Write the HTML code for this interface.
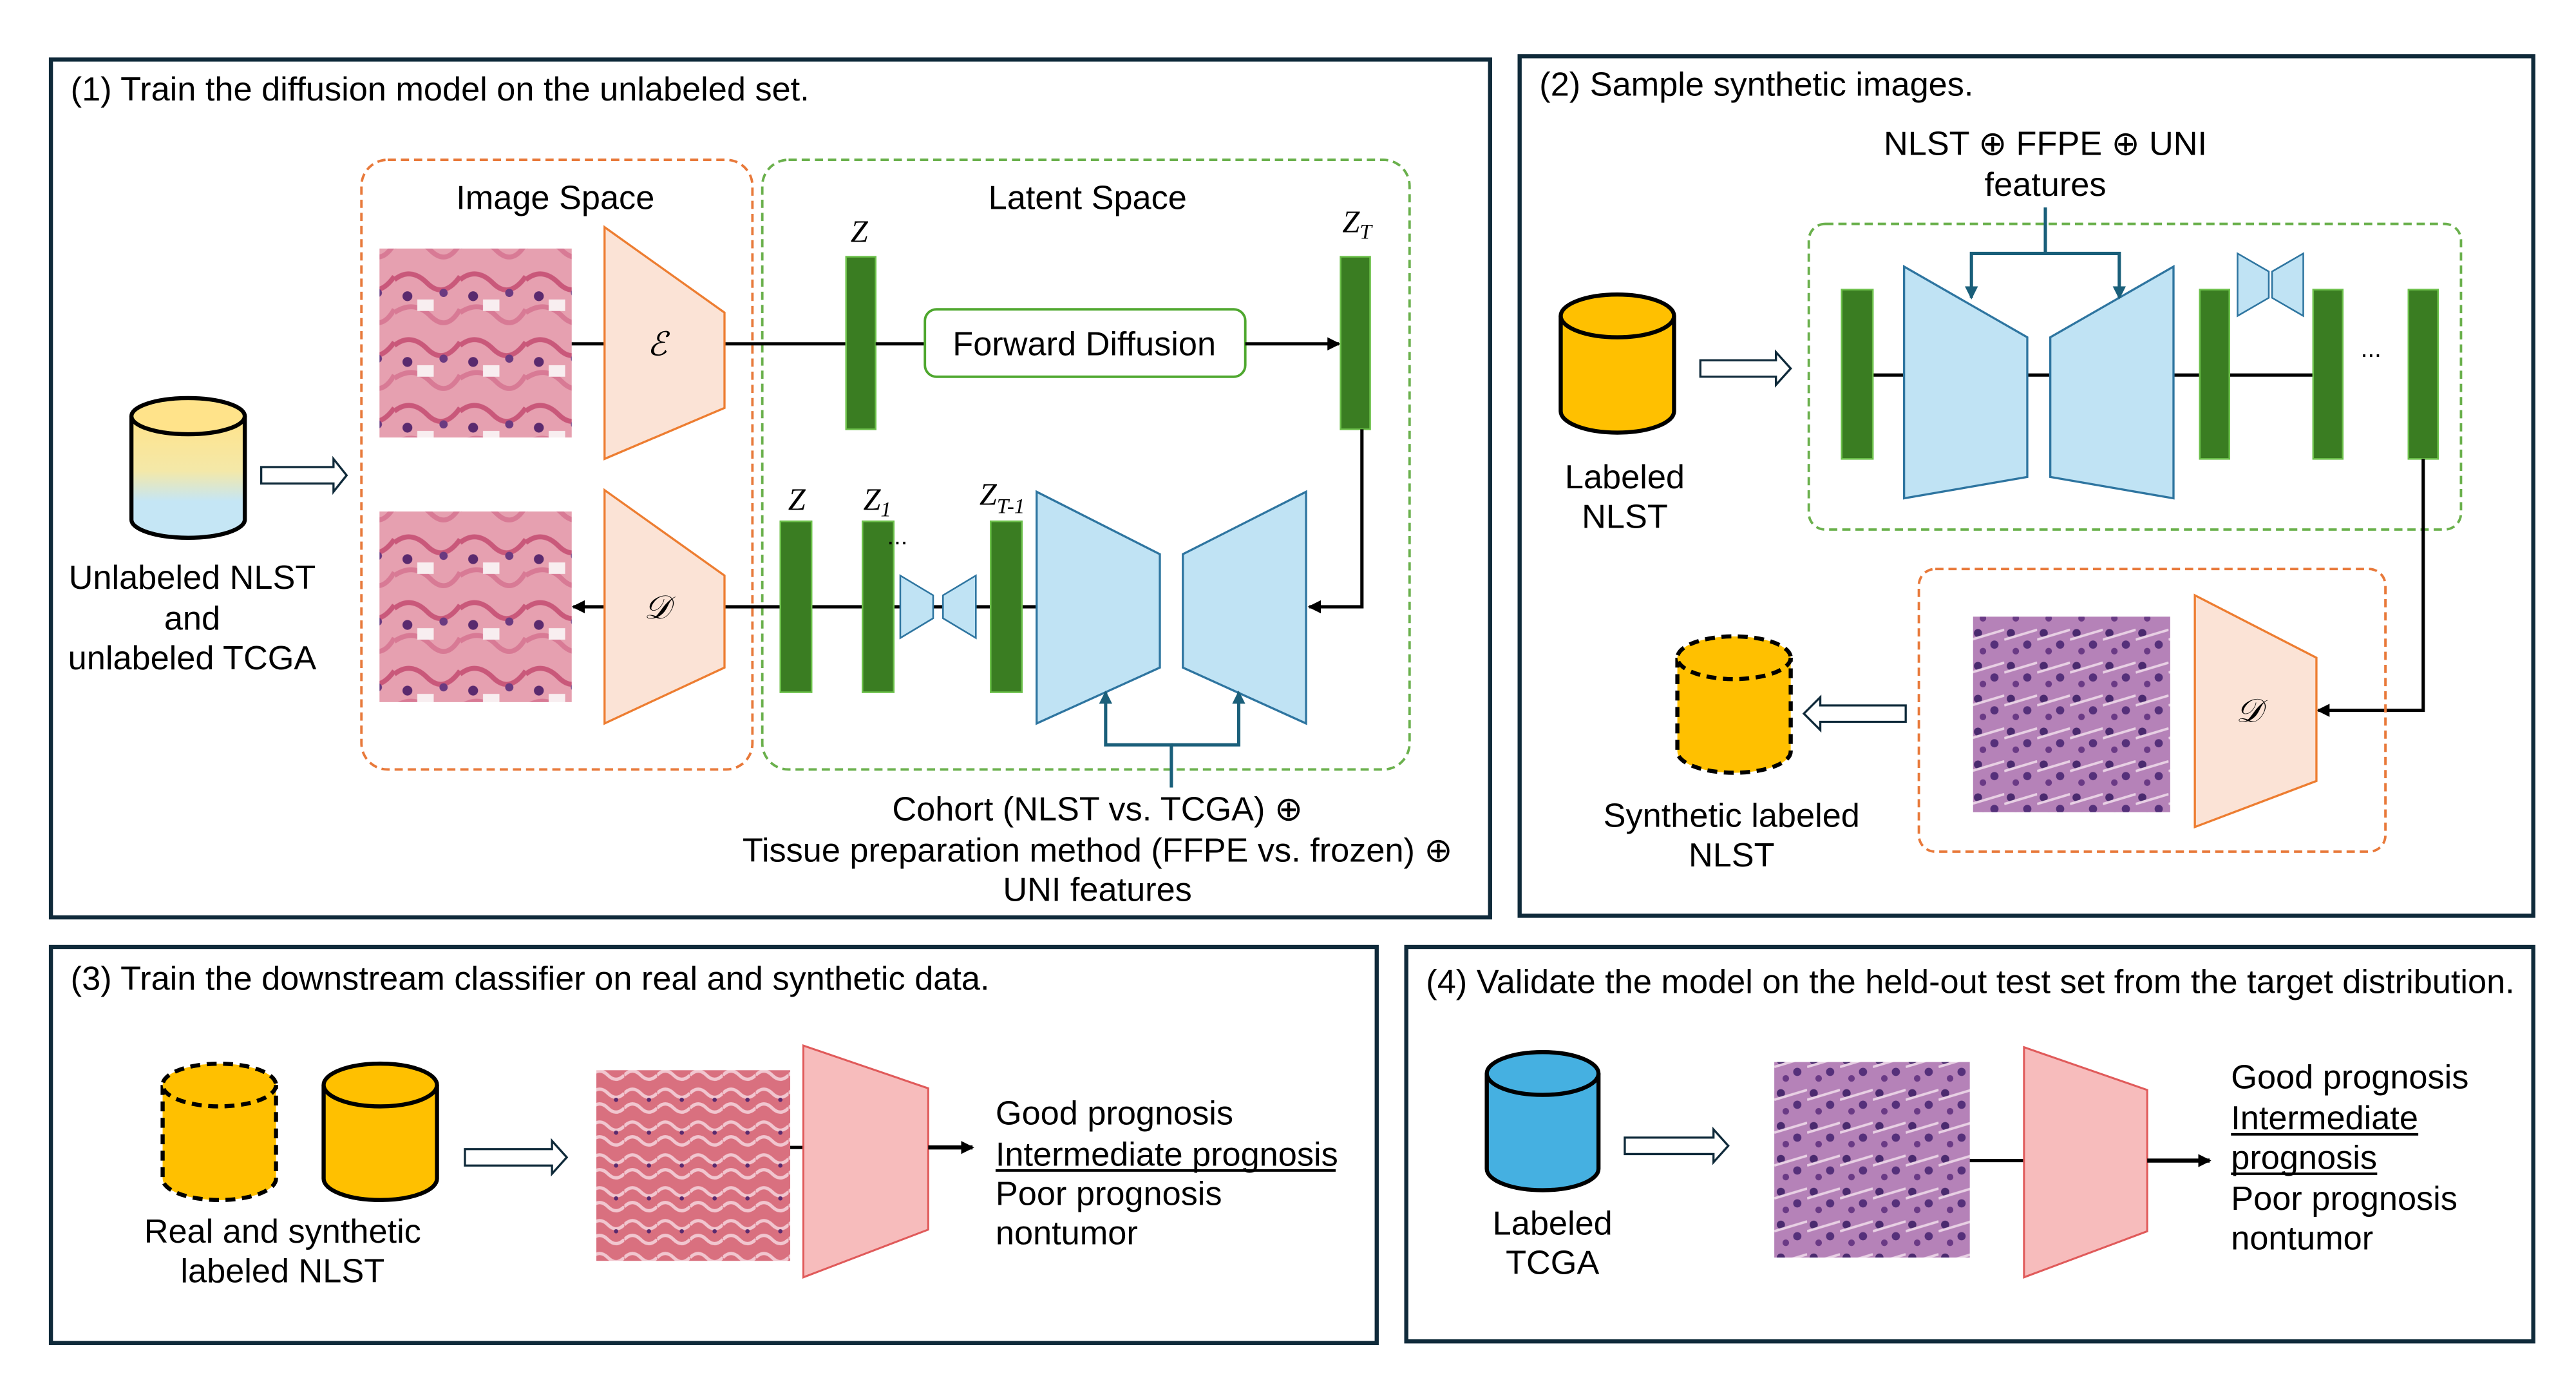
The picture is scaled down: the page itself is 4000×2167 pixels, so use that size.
<!DOCTYPE html>
<html><head><meta charset="utf-8"><style>html,body{margin:0;padding:0;background:#fff}svg{display:block}text{font-family:"Liberation Sans",sans-serif;fill:#000}</style></head>
<body>
<svg width="4000" height="2167" viewBox="0 0 1568 849" xmlns="http://www.w3.org/2000/svg">
<defs>
<marker id="ab" markerWidth="8" markerHeight="8" refX="7" refY="4" orient="auto" markerUnits="userSpaceOnUse"><path d="M0,0 L8,4 L0,8 z" fill="#000"/></marker>
<marker id="abl" markerWidth="8" markerHeight="8" refX="7" refY="4" orient="auto" markerUnits="userSpaceOnUse"><path d="M0,0 L8,4 L0,8 z" fill="#1a5f7a"/></marker>
<linearGradient id="cyl" x1="0" y1="0" x2="0" y2="1"><stop offset="0" stop-color="#ffe38a"/><stop offset="0.45" stop-color="#f4e8a8"/><stop offset="0.7" stop-color="#c5e6f5"/><stop offset="1" stop-color="#c5e6f5"/></linearGradient>
<pattern id="hp" width="40" height="40" patternUnits="userSpaceOnUse"><rect width="40" height="40" fill="#e6a0b0"/><path d="M0,10 Q10,2 20,12 T40,8" stroke="#c9587a" stroke-width="3" fill="none"/><path d="M0,30 Q12,22 22,32 T40,28" stroke="#d87a95" stroke-width="3" fill="none"/><circle cx="8" cy="20" r="3" fill="#5a2a6e"/><circle cx="30" cy="18" r="2.5" fill="#6a3a80"/><rect x="14" y="22" width="10" height="7" fill="#f8eef0"/></pattern>
<pattern id="pp" width="20" height="20" patternUnits="userSpaceOnUse"><rect width="20" height="20" fill="#b582b8"/><circle cx="4" cy="5" r="2.5" fill="#4a2a6e"/><circle cx="14" cy="12" r="2.5" fill="#55307a"/><circle cx="7" cy="16" r="2" fill="#6a3a85"/><path d="M0,9 L20,3" stroke="#e8d0e4" stroke-width="1.5"/></pattern>
<pattern id="rp" width="20" height="20" patternUnits="userSpaceOnUse"><rect width="20" height="20" fill="#d9707f"/><path d="M0,5 Q5,0 10,5 T20,5 M0,14 Q5,9 10,14 T20,14" stroke="#f1c6cf" stroke-width="2" fill="none"/><circle cx="15" cy="9" r="1.3" fill="#5a2a6e"/></pattern>
</defs>
<g fill="none" stroke="#0f2a3a" stroke-width="2.5">
<rect x="31" y="36" width="876" height="522"/>
<rect x="925" y="34" width="617" height="523"/>
<rect x="31" y="576" width="807" height="241"/>
<rect x="856" y="576" width="686" height="240"/>
</g>
<g font-size="20.5">
<text x="43" y="61">(1) Train the diffusion model on the unlabeled set.</text>
<text x="937" y="58">(2) Sample synthetic images.</text>
<text x="43" y="602">(3) Train the downstream classifier on real and synthetic data.</text>
<text x="868" y="604">(4) Validate the model on the held-out test set from the target distribution.</text>
</g>

<!-- Panel 1 -->
<rect x="220" y="97" width="238" height="371" rx="16" fill="none" stroke="#e8793a" stroke-width="1.5" stroke-dasharray="5,3"/>
<rect x="464" y="97" width="394" height="371" rx="16" fill="none" stroke="#6ab04c" stroke-width="1.5" stroke-dasharray="5,3"/>
<text x="338" y="127" font-size="20.5" text-anchor="middle">Image Space</text>
<text x="662" y="127" font-size="20.5" text-anchor="middle">Latent Space</text>
<rect x="231" y="151" width="117" height="115" fill="url(#hp)"/>
<rect x="231" y="311" width="117" height="116" fill="url(#hp)"/>
<line x1="348" y1="209" x2="515" y2="209" stroke="#000" stroke-width="2"/>
<polygon points="368,138 441,190 441,248 368,279" fill="#fbe3d6" stroke="#ed7d31" stroke-width="1.3"/>
<text x="400" y="216" font-size="20" text-anchor="middle" font-style="italic" style="font-family:'Liberation Serif'">ℰ</text>
<rect x="515" y="156" width="18" height="105" fill="#3a7d22" stroke="#6cc04a"/>
<text x="523" y="147" font-size="19" font-style="italic" text-anchor="middle" style="font-family:'Liberation Serif'">Z</text>
<line x1="533" y1="209" x2="563" y2="209" stroke="#000" stroke-width="2"/>
<rect x="563" y="188" width="195" height="41" rx="7" fill="#fff" stroke="#4ea72e" stroke-width="1.5"/>
<text x="660" y="216" font-size="20.5" text-anchor="middle">Forward Diffusion</text>
<line x1="758" y1="209" x2="815" y2="209" stroke="#000" stroke-width="2" marker-end="url(#ab)"/>
<rect x="816" y="156" width="18" height="105" fill="#3a7d22" stroke="#6cc04a"/>
<text x="826" y="141" font-size="19" font-style="italic" text-anchor="middle" style="font-family:'Liberation Serif'">Z<tspan font-size="13" dy="4">T</tspan></text>
<polyline points="829,261 829,369 797,369" fill="none" stroke="#000" stroke-width="2" marker-end="url(#ab)"/>
<line x1="631" y1="369" x2="349" y2="369" stroke="#000" stroke-width="2" marker-end="url(#ab)"/>
<polygon points="368,298 441,350 441,406 368,440" fill="#fbe3d6" stroke="#ed7d31" stroke-width="1.3"/>
<text x="400" y="376" font-size="20" text-anchor="middle" font-style="italic" style="font-family:'Liberation Serif'">𝒟</text>
<rect x="475" y="317" width="19" height="104" fill="#3a7d22" stroke="#6cc04a"/>
<rect x="525" y="317" width="19" height="104" fill="#3a7d22" stroke="#6cc04a"/>
<rect x="603" y="317" width="19" height="104" fill="#3a7d22" stroke="#6cc04a"/>
<polygon points="548,350 568,362 568,376 548,388" fill="#c0e3f4" stroke="#2e75a0"/>
<polygon points="574,362 594,350 594,388 574,376" fill="#c0e3f4" stroke="#2e75a0"/>
<text x="485" y="310" font-size="19" font-style="italic" text-anchor="middle" style="font-family:'Liberation Serif'">Z</text>
<text x="534" y="310" font-size="19" font-style="italic" text-anchor="middle" style="font-family:'Liberation Serif'">Z<tspan font-size="13" dy="4">1</tspan></text>
<text x="540" y="331" font-size="15">...</text>
<text x="610" y="307" font-size="19" font-style="italic" text-anchor="middle" style="font-family:'Liberation Serif'">Z<tspan font-size="13" dy="5">T-1</tspan></text>
<polygon points="631,299 706,337 706,406 631,440" fill="#c0e3f4" stroke="#2e75a0" stroke-width="1.3"/>
<polygon points="720,337 795,299 795,440 720,406" fill="#c0e3f4" stroke="#2e75a0" stroke-width="1.3"/>
<polyline points="713,479 713,453 673,453 673,421" fill="none" stroke="#1a5f7a" stroke-width="2" marker-end="url(#abl)"/>
<polyline points="713,453 754,453 754,421" fill="none" stroke="#1a5f7a" stroke-width="2" marker-end="url(#abl)"/>
<g font-size="20.5" text-anchor="middle">
<text x="668" y="499">Cohort (NLST vs. TCGA) ⊕</text>
<text x="668" y="524">Tissue preparation method (FFPE vs. frozen) ⊕</text>
<text x="668" y="548">UNI features</text>
</g>
<path d="M80,253 L80,316 A34.5,11 0 0 0 149,316 L149,253" fill="url(#cyl)" stroke="#000" stroke-width="2.5"/>
<ellipse cx="114.5" cy="253" rx="34.5" ry="11" fill="#ffe38a" stroke="#000" stroke-width="2.5"/>
<polygon points="159,284 203,284 203,279 211,289 203,299 203,294 159,294" fill="#fff" stroke="#0f2a3a" stroke-width="1.3"/>
<g font-size="20.5" text-anchor="middle">
<text x="117" y="358">Unlabeled NLST</text>
<text x="117" y="383">and</text>
<text x="117" y="407">unlabeled TCGA</text>
</g>

<!-- Panel 2 -->
<text x="1245" y="94" font-size="20.5" text-anchor="middle">NLST ⊕ FFPE ⊕ UNI</text>
<text x="1245" y="119" font-size="20.5" text-anchor="middle">features</text>
<rect x="1101" y="136" width="397" height="186" rx="10" fill="none" stroke="#6ab04c" stroke-width="1.5" stroke-dasharray="5,3"/>
<line x1="1140" y1="228" x2="1408" y2="228" stroke="#000" stroke-width="2"/>
<rect x="1121" y="176" width="19" height="103" fill="#3a7d22" stroke="#6cc04a"/>
<polygon points="1159,162 1234,205 1234,290 1159,303" fill="#c0e3f4" stroke="#2e75a0" stroke-width="1.3"/>
<polygon points="1248,205 1323,162 1323,303 1248,290" fill="#c0e3f4" stroke="#2e75a0" stroke-width="1.3"/>
<polyline points="1245,126 1245,154 1200,154 1200,181" fill="none" stroke="#1a5f7a" stroke-width="2" marker-end="url(#abl)"/>
<polyline points="1245,154 1290,154 1290,181" fill="none" stroke="#1a5f7a" stroke-width="2" marker-end="url(#abl)"/>
<rect x="1339" y="176" width="18" height="103" fill="#3a7d22" stroke="#6cc04a"/>
<rect x="1408" y="176" width="18" height="103" fill="#3a7d22" stroke="#6cc04a"/>
<rect x="1466" y="176" width="18" height="103" fill="#3a7d22" stroke="#6cc04a"/>
<polygon points="1362,154 1381,165 1381,181 1362,192" fill="#c0e3f4" stroke="#2e75a0"/>
<polygon points="1383,165 1402,154 1402,192 1383,181" fill="#c0e3f4" stroke="#2e75a0"/>
<text x="1437" y="217" font-size="15">...</text>
<polyline points="1475,279 1475,432 1411,432" fill="none" stroke="#000" stroke-width="2" marker-end="url(#ab)"/>
<rect x="1168" y="346" width="284" height="172" rx="10" fill="none" stroke="#e8793a" stroke-width="1.5" stroke-dasharray="5,3"/>
<rect x="1201" y="375" width="120" height="119" fill="url(#pp)"/>
<polygon points="1336,362 1410,400 1410,475 1336,503" fill="#fbe3d6" stroke="#ed7d31" stroke-width="1.3"/>
<text x="1369" y="439" font-size="20" text-anchor="middle" font-style="italic" style="font-family:'Liberation Serif'">𝒟</text>
<path d="M950,192 L950,250 A34.5,13 0 0 0 1019,250 L1019,192" fill="#ffc000" stroke="#000" stroke-width="2.5"/>
<ellipse cx="984.5" cy="192" rx="34.5" ry="13" fill="#ffc000" stroke="#000" stroke-width="2.5"/>
<polygon points="1035,219 1081,219 1081,214 1090,224 1081,234 1081,229 1035,229" fill="#fff" stroke="#0f2a3a" stroke-width="1.3"/>
<text x="989" y="297" font-size="20.5" text-anchor="middle">Labeled</text>
<text x="989" y="321" font-size="20.5" text-anchor="middle">NLST</text>
<path d="M1021,400 L1021,457 A34.5,13 0 0 0 1090,457 L1090,400" fill="#ffc000" stroke="#000" stroke-width="2.5" stroke-dasharray="6,4"/>
<ellipse cx="1055.5" cy="400" rx="34.5" ry="13" fill="#ffc000" stroke="#000" stroke-width="2.5" stroke-dasharray="6,4"/>
<polygon points="1160,429 1108,429 1108,424 1098,434 1108,444 1108,439 1160,439" fill="#fff" stroke="#0f2a3a" stroke-width="1.3"/>
<text x="1054" y="503" font-size="20.5" text-anchor="middle">Synthetic labeled</text>
<text x="1054" y="527" font-size="20.5" text-anchor="middle">NLST</text>

<!-- Panel 3 -->
<path d="M99,660 L99,717 A34.5,13 0 0 0 168,717 L168,660" fill="#ffc000" stroke="#000" stroke-width="2.5" stroke-dasharray="6,4"/>
<ellipse cx="133.5" cy="660" rx="34.5" ry="13" fill="#ffc000" stroke="#000" stroke-width="2.5" stroke-dasharray="6,4"/>
<path d="M197,660 L197,717 A34.5,13 0 0 0 266,717 L266,660" fill="#ffc000" stroke="#000" stroke-width="2.5"/>
<ellipse cx="231.5" cy="660" rx="34.5" ry="13" fill="#ffc000" stroke="#000" stroke-width="2.5"/>
<text x="172" y="756" font-size="20.5" text-anchor="middle">Real and synthetic</text>
<text x="172" y="780" font-size="20.5" text-anchor="middle">labeled NLST</text>
<polygon points="283,699 336,699 336,694 345,704 336,714 336,709 283,709" fill="#fff" stroke="#0f2a3a" stroke-width="1.3"/>
<rect x="363" y="651" width="118" height="116" fill="url(#rp)"/>
<line x1="481" y1="698" x2="489" y2="698" stroke="#000" stroke-width="2"/>
<polygon points="489,636 565,662 565,748 489,777" fill="#f7bcbc" stroke="#e05a5a" stroke-width="1.2"/>
<line x1="565" y1="698" x2="592" y2="698" stroke="#000" stroke-width="2.5" marker-end="url(#ab)"/>
<g font-size="20.5">
<text x="606" y="684">Good prognosis</text>
<text x="606" y="709">Intermediate prognosis</text>
<text x="606" y="733">Poor prognosis</text>
<text x="606" y="757">nontumor</text>
</g>
<line x1="606" y1="712" x2="813" y2="712" stroke="#000" stroke-width="1.5"/>

<!-- Panel 4 -->
<path d="M905,653 L905,711 A34,13 0 0 0 973,711 L973,653" fill="#45b0e1" stroke="#000" stroke-width="2.5"/>
<ellipse cx="939" cy="653" rx="34" ry="13" fill="#45b0e1" stroke="#000" stroke-width="2.5"/>
<text x="945" y="751" font-size="20.5" text-anchor="middle">Labeled</text>
<text x="945" y="775" font-size="20.5" text-anchor="middle">TCGA</text>
<polygon points="989,692 1043,692 1043,687 1052,697 1043,707 1043,702 989,702" fill="#fff" stroke="#0f2a3a" stroke-width="1.3"/>
<rect x="1080" y="646" width="119" height="119" fill="url(#pp)"/>
<line x1="1199" y1="706" x2="1232" y2="706" stroke="#000" stroke-width="2"/>
<polygon points="1232,637 1307,663 1307,749 1232,777" fill="#f7bcbc" stroke="#e05a5a" stroke-width="1.2"/>
<line x1="1307" y1="706" x2="1345" y2="706" stroke="#000" stroke-width="2.5" marker-end="url(#ab)"/>
<g font-size="20.5">
<text x="1358" y="662">Good prognosis</text>
<text x="1358" y="687">Intermediate</text>
<text x="1358" y="711">prognosis</text>
<text x="1358" y="736">Poor prognosis</text>
<text x="1358" y="760">nontumor</text>
</g>
<line x1="1358" y1="690" x2="1472" y2="690" stroke="#000" stroke-width="1.5"/>
<line x1="1358" y1="714" x2="1447" y2="714" stroke="#000" stroke-width="1.5"/>
</svg>
</body></html>
